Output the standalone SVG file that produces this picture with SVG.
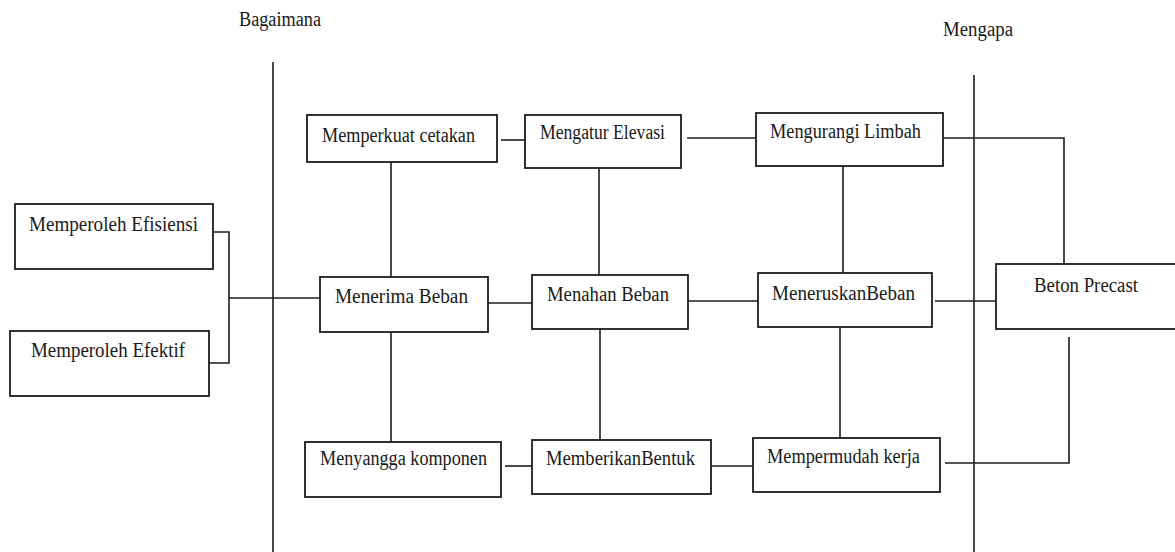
<svg xmlns="http://www.w3.org/2000/svg" width="1175" height="552" viewBox="0 0 1175 552">
  <style>
    .box { fill: #ffffff; stroke: #1c1c1c; stroke-width: 1.8; }
    .wire { fill: none; stroke: #1c1c1c; stroke-width: 1.6; }
    .lbl { font-family: "Liberation Serif", "Times New Roman", serif; font-size: 20px; fill: #1a1a1a; }
  </style>
  <rect width="1175" height="552" fill="#ffffff"/>

  <!-- column headings and dividers -->
  <text class="lbl" x="239" y="26" textLength="82" lengthAdjust="spacingAndGlyphs">Bagaimana</text>
  <text class="lbl" x="943" y="36" textLength="70" lengthAdjust="spacingAndGlyphs">Mengapa</text>

  <g id="connectors">
    <line class="wire" x1="273" y1="62" x2="273" y2="552"/>
    <line class="wire" x1="974" y1="75" x2="974" y2="552"/>
    <polyline class="wire" points="213,232 229,232 229,363 207,363"/>
    <line class="wire" x1="229" y1="298" x2="320" y2="298"/>
    <line class="wire" x1="501" y1="140" x2="525" y2="140"/>
    <line class="wire" x1="687" y1="138" x2="756" y2="138"/>
    <polyline class="wire" points="943,138 1064,138 1064,269"/>
    <line class="wire" x1="391" y1="162" x2="391" y2="277"/>
    <line class="wire" x1="599" y1="168" x2="599" y2="275"/>
    <line class="wire" x1="843" y1="166" x2="843" y2="273"/>
    <line class="wire" x1="488" y1="303" x2="532" y2="303"/>
    <line class="wire" x1="688" y1="301" x2="758" y2="301"/>
    <line class="wire" x1="935" y1="301" x2="998" y2="301"/>
    <line class="wire" x1="391" y1="332" x2="391" y2="442"/>
    <line class="wire" x1="600" y1="329" x2="600" y2="440"/>
    <line class="wire" x1="840" y1="327" x2="840" y2="438"/>
    <line class="wire" x1="505" y1="466" x2="532" y2="466"/>
    <line class="wire" x1="711" y1="466" x2="753" y2="466"/>
    <polyline class="wire" points="945,463 1069,463 1069,337"/>
  </g>

  <g id="efisiensi">
    <rect class="box" x="15" y="204" width="198" height="65"/>
    <text class="lbl" x="29" y="231" textLength="169" lengthAdjust="spacingAndGlyphs">Memperoleh Efisiensi</text>
  </g>
  <g id="efektif">
    <rect class="box" x="10" y="331" width="199" height="65"/>
    <text class="lbl" x="31" y="357" textLength="154" lengthAdjust="spacingAndGlyphs">Memperoleh Efektif</text>
  </g>

  <g id="memperkuat">
    <rect class="box" x="307" y="115" width="190" height="47"/>
    <text class="lbl" x="322" y="142" textLength="153" lengthAdjust="spacingAndGlyphs">Memperkuat cetakan</text>
  </g>
  <g id="mengatur">
    <rect class="box" x="525" y="115" width="156" height="53"/>
    <text class="lbl" x="540" y="139" textLength="125" lengthAdjust="spacingAndGlyphs">Mengatur Elevasi</text>
  </g>
  <g id="mengurangi">
    <rect class="box" x="756" y="113" width="187" height="53"/>
    <text class="lbl" x="770" y="138" textLength="151" lengthAdjust="spacingAndGlyphs">Mengurangi Limbah</text>
  </g>

  <g id="menerima">
    <rect class="box" x="320" y="277" width="168" height="55"/>
    <text class="lbl" x="335" y="303" textLength="133" lengthAdjust="spacingAndGlyphs">Menerima Beban</text>
  </g>
  <g id="menahan">
    <rect class="box" x="532" y="275" width="156" height="54"/>
    <text class="lbl" x="547" y="301" textLength="122" lengthAdjust="spacingAndGlyphs">Menahan Beban</text>
  </g>
  <g id="meneruskan">
    <rect class="box" x="758" y="273" width="174" height="54"/>
    <text class="lbl" x="772" y="300" textLength="143" lengthAdjust="spacingAndGlyphs">MeneruskanBeban</text>
  </g>
  <g id="beton">
    <rect class="box" x="996" y="264" width="182" height="65"/>
    <text class="lbl" x="1034" y="292" textLength="104" lengthAdjust="spacingAndGlyphs">Beton Precast</text>
  </g>

  <g id="menyangga">
    <rect class="box" x="305" y="442" width="196" height="55"/>
    <text class="lbl" x="320" y="465" textLength="167" lengthAdjust="spacingAndGlyphs">Menyangga komponen</text>
  </g>
  <g id="memberikan">
    <rect class="box" x="532" y="440" width="179" height="54"/>
    <text class="lbl" x="546" y="465" textLength="149" lengthAdjust="spacingAndGlyphs">MemberikanBentuk</text>
  </g>
  <g id="mempermudah">
    <rect class="box" x="753" y="438" width="187" height="54"/>
    <text class="lbl" x="767" y="463" textLength="153" lengthAdjust="spacingAndGlyphs">Mempermudah kerja</text>
  </g>
</svg>
